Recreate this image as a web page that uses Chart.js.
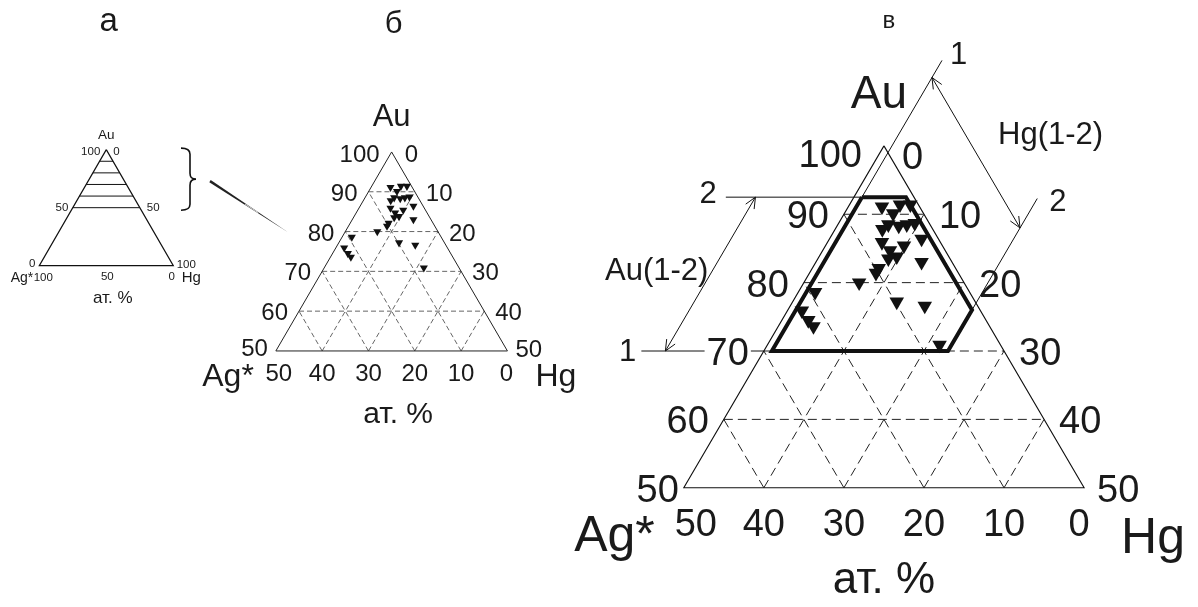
<!DOCTYPE html>
<html>
<head>
<meta charset="utf-8">
<script src="https://cdn.jsdelivr.net/npm/chart.js@4"></script>
<style>
    html, body { margin: 0; padding: 0; background: #fff; }
    #wrap { position: relative; width: 1198px; height: 607px; overflow: hidden; }
    #wrap canvas { position: absolute; left: 0; top: 0; }
</style>
</head>
<body>
<div id="wrap">
    <canvas id="panelA" width="1198" height="607"></canvas>
    <canvas id="panelB" width="1198" height="607"></canvas>
    <canvas id="panelV" width="1198" height="607"></canvas>
</div>
<script>
const W = 1198, H = 607;
const FONT = '"Liberation Sans", Arial, sans-serif';
const R3 = Math.sqrt(3) / 2;

// составы (ат. %): Au y Hg, Ag* = 100 - Au - Hg
const puntosAu = [91.1, 91.4, 91.4, 90.1, 88.5, 88.3, 88.5, 88.7, 87.8, 86.4, 85.9, 84.7, 83.8,
                  83.5, 85.4, 83.0, 82.1, 81.4, 80.0, 77.2, 76.6, 70.9, 78.6, 75.9, 74.5, 73.6];
const puntosHg = [4.2, 6.3, 7.6, 6.1, 6.3, 7.7, 8.6, 9.5, 5.9, 11.5, 6.8, 8.4, 9.7,
                  8.8, 9.8, 13.2, 8.3, 8.3, 6.9, 13.0, 16.8, 21.5, 2.1, 1.8, 3.3, 4.4];

// подписи шкал
const ticksAu = [100, 90, 80, 70, 60, 50];
const ticksHg = [0, 10, 20, 30, 40, 50];
const ticksAg = [50, 40, 30, 20, 10, 0];
const lineasA = [50, 60, 70, 80, 90];
const gridAu = [60, 70, 80, 90];
const gridHg = [10, 20, 30, 40];
const gridAg = [10, 20, 30, 40];

// поле составов (в)
const rangoAu = [70, 92.5];
const rangoHg = [1, 23];
const campoAu = [92.5, 92.5, 76, 70, 70, 92.5];
const campoHg = [1, 6.5, 23, 23, 1, 1];

function tern(au, hg) {
    return { x: hg + au / 2, y: au * R3 };
}

// escala para que la esquina Ag* del triangulo quede en (blx, bly) con base de ancho dado
function marco(auMin, blx, bly, ancho) {
    const s = ancho / (100 - auMin);
    const x0 = auMin / 2, y0 = auMin * R3;
    return {
        x: { type: 'linear', display: false, min: x0 - blx / s, max: x0 + (W - blx) / s },
        y: { type: 'linear', display: false, min: y0 - (H - bly) / s, max: y0 + bly / s }
    };
}

function linea(pts, extra) {
    return Object.assign({
        data: pts.map(p => tern(p[0], p[1])),
        showLine: true, pointRadius: 0, borderColor: '#111', borderWidth: 1,
        fill: false, tension: 0
    }, extra || {});
}

function rejilla(auMin, estilo) {
    const out = [];
    gridAu.forEach(a => out.push(linea([[a, 0], [a, 100 - a]], estilo)));
    gridHg.forEach(h => out.push(linea([[auMin, h], [100 - h, h]], estilo)));
    gridAg.forEach(g => out.push(linea([[auMin, 100 - auMin - g], [100 - g, 0]], estilo)));
    return out;
}

function marcas(r) {
    return {
        data: puntosAu.map((au, i) => tern(au, puntosHg[i])),
        pointStyle: 'triangle', pointRotation: 180, pointRadius: r,
        backgroundColor: '#111', borderColor: '#111', borderWidth: 0, showLine: false
    };
}

function px(chart, au, hg) {
    const p = tern(au, hg);
    return { x: chart.scales.x.getPixelForValue(p.x), y: chart.scales.y.getPixelForValue(p.y) };
}

function texto(ctx, s, x, y, size, align, fondo) {
    ctx.font = size + 'px ' + FONT;
    ctx.textAlign = align || 'center';
    ctx.textBaseline = 'alphabetic';
    if (fondo) {
        const w = ctx.measureText(s).width;
        const x0 = align === 'right' ? x - w : (align === 'left' ? x : x - w / 2);
        ctx.fillStyle = '#fff';
        ctx.fillRect(x0 - 2, y - size * 0.75, w + 4, size * 0.8);
    }
    ctx.fillStyle = '#1a1a1a';
    ctx.fillText(s, x, y);
}

function flecha(ctx, from, to, len, ang) {
    const a = Math.atan2(to.y - from.y, to.x - from.x);
    ctx.beginPath();
    ctx.moveTo(to.x - len * Math.cos(a - ang), to.y - len * Math.sin(a - ang));
    ctx.lineTo(to.x, to.y);
    ctx.lineTo(to.x - len * Math.cos(a + ang), to.y - len * Math.sin(a + ang));
    ctx.stroke();
}

// подписи усечённого треугольника (б, в)
function escalas(chart, c) {
    const ctx = chart.ctx;
    const apex = px(chart, 100, 0), bl = px(chart, 50, 0), br = px(chart, 50, 50);
    ticksAu.forEach((v, i) => {
        const L = px(chart, v, 0), R = px(chart, v, ticksHg[i]);
        let l = [L.x - c.dx, L.y + c.dy], r = [R.x + c.dx, R.y + c.dy];
        if (i === 0) { l = [apex.x + c.apexL[0], apex.y + c.apexL[1]]; r = [apex.x + c.apexR[0], apex.y + c.apexR[1]]; }
        if (i === ticksAu.length - 1) { l = [bl.x + c.cornerL[0], bl.y + c.cornerL[1]]; r = [br.x + c.cornerR[0], br.y + c.cornerR[1]]; }
        texto(ctx, String(v), l[0], l[1], c.size, 'right', c.fondo && v === 70);
        texto(ctx, String(ticksHg[i]), r[0], r[1], c.size, 'left');
    });
    ticksAg.forEach((g, i) => {
        const B = px(chart, 50, 50 - g);
        let dx = 0;
        if (i === 0) dx = c.shift[0];
        if (i === ticksAg.length - 1) dx = c.shift[1];
        texto(ctx, String(g), B.x + dx, B.y + c.baseDy, c.size, 'center');
    });
    texto(ctx, 'Au', apex.x + c.au[0], apex.y + c.au[1], c.big, 'center');
    texto(ctx, 'Ag*', bl.x + c.ag[0], bl.y + c.ag[1], c.name, 'right');
    texto(ctx, 'Hg', br.x + c.hg[0], br.y + c.hg[1], c.name, 'left');
    texto(ctx, 'ат. %', apex.x + c.at[0], bl.y + c.at[1], c.atSize, 'center');
    texto(ctx, c.titulo, apex.x + c.tit[0], apex.y + c.tit[1], c.titSize, 'center');
}

const baseOpts = {
    responsive: false, animation: false, events: [],
    layout: { padding: 0 },
    plugins: { legend: { display: false }, tooltip: { enabled: false } }
};

// ---------- а ----------
const dsA = [linea([[100, 0], [0, 0], [0, 100], [100, 0]], { borderWidth: 1.2 })];
lineasA.forEach(a => dsA.push(linea([[a, 0], [a, 100 - a]], { borderWidth: 1 })));

new Chart(document.getElementById('panelA'), {
    type: 'scatter',
    data: { datasets: dsA },
    options: Object.assign({}, baseOpts, { scales: marco(0, 39.3, 265.7, 134) }),
    plugins: [{
        id: 'textoA',
        afterDatasetsDraw(chart) {
            const ctx = chart.ctx;
            const apex = px(chart, 100, 0), bl = px(chart, 0, 0), br = px(chart, 0, 100);
            const L50 = px(chart, 50, 0), R50 = px(chart, 50, 50);
            texto(ctx, 'Au', apex.x, apex.y - 10.5, 13.5, 'center');
            texto(ctx, '100', apex.x - 6, apex.y + 5.6, 11.5, 'right');
            texto(ctx, '0', apex.x + 7, apex.y + 5.6, 11.5, 'left');
            texto(ctx, '50', L50.x - 4.5, L50.y + 3.3, 11.5, 'right');
            texto(ctx, '50', R50.x + 7, R50.y + 3.3, 11.5, 'left');
            texto(ctx, '0', bl.x - 4, bl.y + 1, 11.5, 'right');
            texto(ctx, '100', br.x + 3.4, br.y + 2, 11.5, 'left');
            texto(ctx, 'Ag*', bl.x - 6, bl.y + 16, 14, 'right');
            texto(ctx, '100', bl.x + 4, bl.y + 15, 11.5, 'center');
            texto(ctx, '50', (bl.x + br.x) / 2 + 1, bl.y + 14.3, 11.5, 'center');
            texto(ctx, '0', br.x - 1.6, br.y + 14.3, 11.5, 'center');
            texto(ctx, 'Hg', br.x + 8.4, br.y + 16, 15, 'left');
            texto(ctx, 'ат. %', apex.x + 6.5, bl.y + 37, 17, 'center');
            texto(ctx, 'а', apex.x + 2.4, apex.y - 119, 33, 'center');

            // llave y flecha hacia б
            const top = apex.y - 1.5, bot = L50.y + 2.5, mid = (top + bot) / 2;
            const x0 = br.x + 7.7, xs = br.x + 16.7, xt = br.x + 22.7;
            ctx.save();
            ctx.strokeStyle = '#111';
            ctx.lineWidth = 1.6;
            ctx.beginPath();
            ctx.moveTo(x0, top);
            ctx.quadraticCurveTo(xs, top, xs, top + 6);
            ctx.lineTo(xs, mid - 6);
            ctx.quadraticCurveTo(xs, mid, xt, mid);
            ctx.quadraticCurveTo(xs, mid, xs, mid + 6);
            ctx.lineTo(xs, bot - 6);
            ctx.quadraticCurveTo(xs, bot, x0, bot);
            ctx.stroke();

            const s = { x: xt + 14, y: mid + 2 }, e = { x: xt + 92, y: mid + 53 };
            const ang = Math.atan2(e.y - s.y, e.x - s.x);
            const nx = -Math.sin(ang) * 1.3, ny = Math.cos(ang) * 1.3;
            ctx.fillStyle = '#222';
            ctx.beginPath();
            ctx.moveTo(s.x + nx, s.y + ny);
            ctx.lineTo(e.x, e.y);
            ctx.lineTo(s.x - nx, s.y - ny);
            ctx.closePath();
            ctx.fill();
            ctx.strokeStyle = '#fff';
            ctx.lineWidth = 0.8;
            ctx.beginPath();
            ctx.moveTo(s.x + (e.x - s.x) * 0.45, s.y + (e.y - s.y) * 0.45);
            ctx.lineTo(s.x + (e.x - s.x) * 0.62, s.y + (e.y - s.y) * 0.62);
            ctx.stroke();
            ctx.restore();
        }
    }]
});

// ---------- б ----------
const dsB = [marcas(4.7), linea([[100, 0], [50, 0], [50, 50], [100, 0]], { borderColor: '#222', borderWidth: 1 })]
    .concat(rejilla(50, { borderColor: '#555', borderWidth: 0.9, borderDash: [5, 3] }));

new Chart(document.getElementById('panelB'), {
    type: 'scatter',
    data: { datasets: dsB },
    options: Object.assign({}, baseOpts, { scales: marco(50, 273.3, 351.7, 233.4) }),
    plugins: [{
        id: 'textoB',
        afterDatasetsDraw(chart) {
            escalas(chart, {
                size: 24, dx: 11, dy: 9, apexL: [-12, 10], apexR: [13, 10],
                cornerL: [-8, 5], cornerR: [8, 6], baseDy: 30, shift: [3, -1],
                big: 31, au: [0, -26], name: 32, ag: [-22, 35], hg: [28, 35],
                atSize: 30, at: [6.5, 71.6], titulo: 'б', titSize: 31, tit: [2, -119], fondo: false
            });
        }
    }]
});

// ---------- в ----------
const flechaAu = [[rangoAu[0], -12.3], [rangoAu[1], -12.3]];
const flechaHg = [[110, rangoHg[0]], [88, rangoHg[1]]];
const dsV = [
    marcas(8.4),
    linea(campoAu.map((a, i) => [a, campoHg[i]]), { borderWidth: 4, borderJoinStyle: 'miter' }),
    linea([[rangoAu[0], -15.3], [rangoAu[0], 0]]),
    linea([[rangoAu[1], -16], [rangoAu[1], rangoHg[0]]]),
    linea(flechaAu),
    linea([[rangoAu[1], rangoHg[0]], [112.5, rangoHg[0]]]),
    linea([[76, rangoHg[1]], [92.3, rangoHg[1]]]),
    linea(flechaHg),
    linea([[100, 0], [50, 0], [50, 50], [100, 0]], { borderWidth: 1.1 })
].concat(rejilla(50, { borderColor: '#222', borderWidth: 1, borderDash: [9, 5] }));

new Chart(document.getElementById('panelV'), {
    type: 'scatter',
    data: { datasets: dsV },
    options: Object.assign({}, baseOpts, { scales: marco(50, 685, 493, 406) }),
    plugins: [{
        id: 'textoV',
        afterDatasetsDraw(chart) {
            const ctx = chart.ctx;
            escalas(chart, {
                size: 38, dx: 15, dy: 14, apexL: [-22, 21], apexR: [18, 23],
                cornerL: [-5, 14], cornerR: [13, 14], baseDy: 48, shift: [12, -5],
                big: 46, au: [-5, -38], name: 50, ag: [-29, 63], hg: [37, 65],
                atSize: 44, at: [0, 105], titulo: 'в', titSize: 24, tit: [5, -118], fondo: true
            });

            ctx.save();
            ctx.strokeStyle = '#111';
            ctx.lineWidth = 1;
            const a1 = px(chart, flechaAu[0][0], flechaAu[0][1]), a2 = px(chart, flechaAu[1][0], flechaAu[1][1]);
            flecha(ctx, a2, a1, 12, 0.42);
            flecha(ctx, a1, a2, 12, 0.42);
            const h1 = px(chart, flechaHg[0][0], flechaHg[0][1]), h2 = px(chart, flechaHg[1][0], flechaHg[1][1]);
            flecha(ctx, h2, h1, 12, 0.42);
            flecha(ctx, h1, h2, 12, 0.42);
            ctx.restore();

            const au1 = px(chart, rangoAu[0], -15.3), au2 = px(chart, rangoAu[1], -16);
            texto(ctx, '1', au1.x - 5, au1.y + 10, 31, 'right');
            texto(ctx, '2', au2.x - 9, au2.y + 6, 31, 'right');
            const hg1 = px(chart, 112.5, rangoHg[0]), hg2 = px(chart, 92.3, rangoHg[1]);
            texto(ctx, '1', hg1.x + 8, hg1.y + 4, 31, 'left');
            texto(ctx, '2', hg2.x + 12, hg2.y + 12, 31, 'left');
            texto(ctx, 'Au(1-2)', (a1.x + a2.x) / 2 - 2, (a1.y + a2.y) / 2 + 6, 31, 'right');
            texto(ctx, 'Hg(1-2)', (h1.x + h2.x) / 2 + 22, (h1.y + h2.y) / 2 - 9, 31, 'left');
        }
    }]
});
</script>
</body>
</html>
